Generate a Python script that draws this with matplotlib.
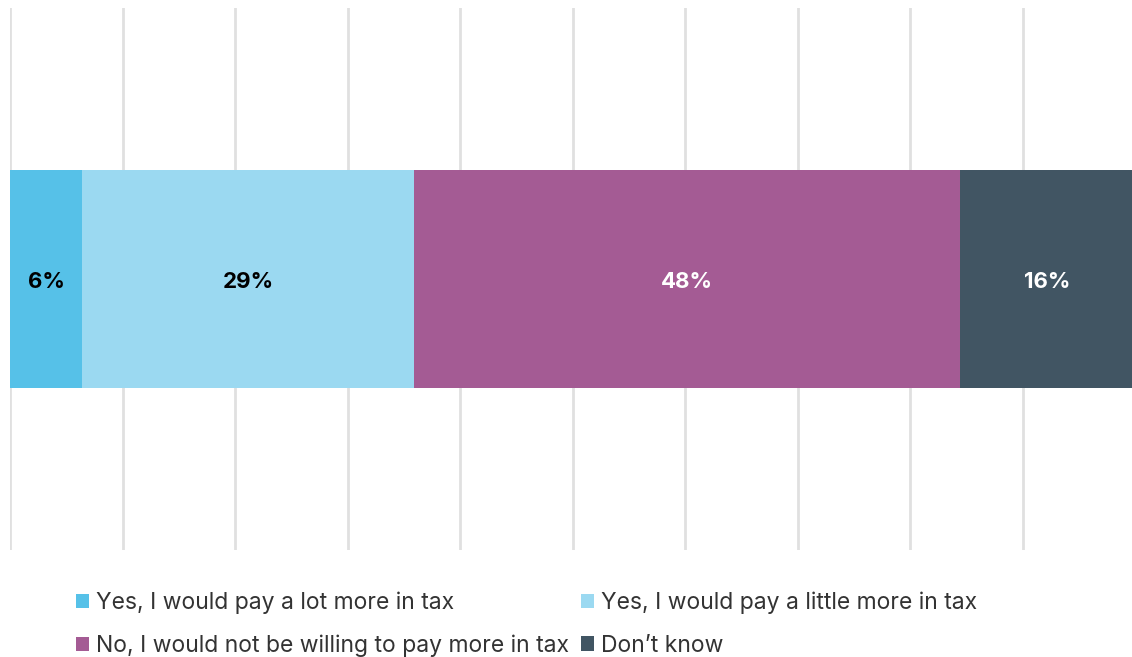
import matplotlib.pyplot as plt

# shares of respondents (bar widths) and the printed labels
categories = ["Yes, I would pay a lot more in tax",
              "Yes, I would pay a little more in tax",
              "No, I would not be willing to pay more in tax",
              "Don\u2019t know"]
values = [6.4, 29.5, 48.5, 15.6]
labels = ["6%", "29%", "48%", "16%"]
colors = ["#56C1E8", "#9BD9F1", "#A45B94", "#415563"]
label_colors = ["black", "black", "white", "white"]

plt.rcParams['font.family'] = ['Inter', 'DejaVu Sans']

W, H = 1132, 657
fig = plt.figure(figsize=(W / 100, H / 100), dpi=100)
ax = fig.add_axes([10 / W, 1 - 550 / H, 1125 / W, 542 / H])

left = 0
bars = []
for val, lab, col, tcol, cat in zip(values, labels, colors, label_colors, categories):
    b = ax.barh(0, val, left=left, height=0.402, color=col, label=cat, zorder=2)
    bars.append(b)
    ax.text(left + val / 2, -0.005, lab, ha='center', va='center', color=tcol,
            fontsize=16, fontweight='bold', zorder=3)
    left += val

ax.set_xlim(0, 100)
ax.set_ylim(-0.5, 0.5)
ax.set_xticks(range(0, 101, 10))
ax.grid(axis='x', color='#e0e0e0', linewidth=2, zorder=0)
ax.tick_params(length=0, labelbottom=False, labelleft=False)
ax.set_yticks([])
for s in ax.spines.values():
    s.set_visible(False)

# legend fills columns first, so reorder to get the rows right
order = [0, 2, 1, 3]
fig.legend([bars[i] for i in order], [categories[i] for i in order],
           ncol=2, loc='upper left', bbox_to_anchor=(55 / W, 1 - 571 / H),
           frameon=False, fontsize=16.5, handlelength=0.6, handleheight=0.6,
           handletextpad=0.3, columnspacing=0.5, labelspacing=0.9,
           labelcolor='#333333')

fig.savefig("out.png", dpi=100)
